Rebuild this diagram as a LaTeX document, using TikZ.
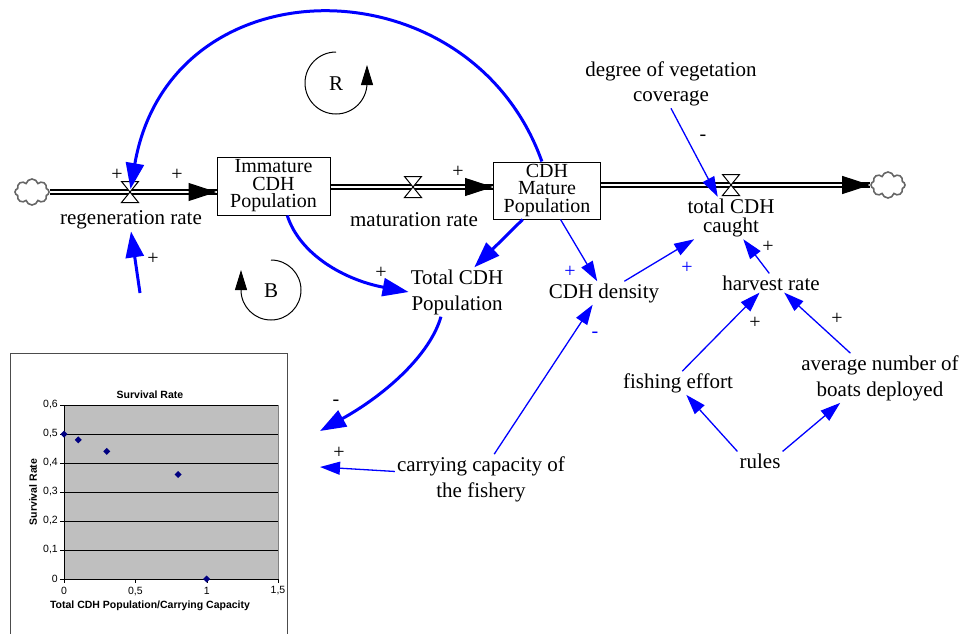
\documentclass[tikz,border=0pt]{standalone}
\usepackage{fontspec}
\setmainfont{Liberation Serif}
\setsansfont{Liberation Sans}
\usepackage{xcolor}
\usetikzlibrary{arrows.meta}
\usetikzlibrary{shapes.symbols, calc}

\definecolor{navy}{RGB}{0,0,128}

\tikzset{
  stock/.style={draw, line width=1pt, align=center, inner sep=0pt,
    minimum width=113pt, minimum height=58pt, font=\fontsize{20}{17.5}\selectfont},
  var/.style={align=center, inner sep=2pt, font=\fontsize{21}{26}\selectfont},
  sign/.style={inner sep=0pt, font=\fontsize{20}{20}\selectfont},
  pipe/.style={double distance=2.3pt, line width=1.7pt},
  flowtip/.style={line width=1pt, -{Triangle[length=28pt, width=18pt]}},
  sink/.style={cloud, cloud puffs=8, draw=black!60, line width=1.6pt,
    minimum width=34pt, minimum height=26pt, inner sep=0pt},
  link/.style={blue, line width=1.3pt, -{Triangle[length=20pt, width=13pt]}},
  biglink/.style={blue, line width=3pt, -{Triangle[length=26pt, width=18pt]}},
  loopsign/.style={line width=1pt, -{Triangle[length=20pt, width=12pt]}},
  chartlabel/.style={inner sep=0pt, font=\sffamily\fontsize{10.5}{12}\selectfont},
  valve/.pic={\filldraw[fill=white, line width=1pt] (-8.5,-10.5) -- (8.5,-10.5) -- (-8.5,10.5) -- (8.5,10.5) -- cycle;}
}

\begin{document}
\begin{tikzpicture}[x=1pt, y=-1pt]
  \useasboundingbox (0,0) rectangle (961,634);

  % stocks and flows
  \node[sink] (cloudL) at (32,192) {};
  \node[sink] (cloudR) at (888,185) {};
  \node[stock] (imm) at (273.5,186) {Immature\\CDH\\Population};
  \node[stock, minimum width=107pt, minimum height=57pt] (mat) at (547,190.5) {CDH\\Mature\\Population};
  \coordinate (vreg) at (130,192);
  \coordinate (vmat) at (413,187);
  \coordinate (vcat) at (731,185);

  \draw[pipe] (cloudL.east) -- (imm.west |- vreg);
  \draw[pipe] (imm.east |- vmat) -- (mat.west |- vmat);
  \draw[pipe] (mat.east |- vcat) -- (cloudR.west);
  \draw[flowtip] ($(imm.west |- vreg)+(-10,0)$) -- (imm.west |- vreg);
  \draw[flowtip] ($(mat.west |- vmat)+(-10,0)$) -- (mat.west |- vmat);
  \draw[flowtip] ($(cloudR.west)+(-10,0)$) -- (cloudR.west);
  \pic at (vreg) {valve};
  \pic at (vmat) {valve};
  \pic at (vcat) {valve};

  \node[sign] at (117,175) {+};
  \node[sign] at (177,175) {+};
  \node[sign] at (458,172) {+};

  % variables
  \node[var] (regen) at (131,220) {regeneration rate};
  \node[var] (matur) at (414,220) {maturation rate};
  \node[var, font=\fontsize{21}{19}\selectfont] (caught) at (731,218) {total CDH\\caught};
  \node[var, font=\fontsize{21}{25}\selectfont] (veg) at (671,84) {degree of vegetation\\coverage};
  \node[var] (total) at (457,292) {Total CDH\\Population};
  \node[var] (density) at (604,293) {CDH density};
  \node[var] (harvest) at (771,283) {harvest rate};
  \node[var] (effort) at (678,383) {fishing effort};
  \node[var] (boats) at (880,378) {average number of\\boats deployed};
  \node[var] (rules) at (760,461) {rules};
  \node[var] (capacity) at (481,479) {carrying capacity of\\the fishery};
  \coordinate (chartout) at (140,293);
  \coordinate (chartin1) at (320,431);
  \coordinate (chartin2) at (320,467);

  % loops
  \draw[loopsign] (336,52) arc[start angle=270, end angle=0, radius=31] -- ++(0,-18);
  \node at (336,84) {\fontsize{21}{21}\selectfont R};
  \draw[loopsign] (271,260) arc[start angle=270, end angle=540, radius=30] -- ++(0,-20);
  \node at (271,291) {\fontsize{21}{21}\selectfont B};

  % causal links
  \draw[biglink, shorten >=3pt] (mat.100) .. controls (470,-40) and (170,-40) .. (vreg);
  \draw[biglink] (chartout) -- (regen.south);
  \node[sign] at (153,259) {+};
  \draw[biglink] (imm.-65) .. controls (300,255) and (345,280) .. (total.west);
  \node[sign] at (381,273) {+};
  \draw[biglink] (mat.230) -- (total.55);
  \draw[link] (mat.-65) -- (density.120);
  \node[sign, blue] at (570,272) {+};
  \draw[link] (density.30) -- (caught.210);
  \node[sign, blue] at (687,268) {+};
  \draw[link] (veg.south) -- (caught.122);
  \node[sign] at (703,138) {-};
  \draw[link] (harvest.100) -- (caught.-60);
  \node[sign] at (768,247) {+};
  \draw[link] (effort.70) -- (harvest.220);
  \node[sign] at (755,323) {+};
  \draw[link] (boats.140) -- (harvest.-36);
  \node[sign] at (837,319) {+};
  \draw[link] (rules.north west) -- (effort.-55);
  \draw[link] (rules.north east) -- (boats.212);
  \draw[link] (capacity.62) -- (density.226);
  \node[sign, blue] at (595,335) {-};
  \draw[link] (capacity.175) -- (chartin2);
  \node[sign] at (339,453) {+};
  \draw[biglink] (total.237) .. controls (430,355) and (385,395) .. (chartin1);
  \node[sign] at (336,403) {-};

  % survival rate chart
  \draw[black!70, line width=0.8pt] (10,634) -- (10,353) -- (287,353) -- (287,634);
  \fill[black!25] (64,405) rectangle (278,579);
  \draw[gray] (278,405) -- (278,579);
  \foreach \v in {1,...,6}
    \draw[line width=0.8pt] (64,{579-29*\v}) -- (278,{579-29*\v});
  \draw[line width=0.8pt] (64,405) -- (64,579) -- (278,579);
  \foreach \v/\t in {0/0, 1/{0,1}, 2/{0,2}, 3/{0,3}, 4/{0,4}, 5/{0,5}, 6/{0,6}}
    \draw (60,{579-29*\v}) -- (64,{579-29*\v}) node[chartlabel, anchor=east, xshift=-2pt] at (60,{579-29*\v}) {\t};
  \foreach \x/\t in {64/0, 135.3/{0,5}, 206.7/1, 278/{1,5}}
    \draw (\x,579) -- (\x,583) node[chartlabel] at (\x,591) {\t};
  \foreach \px/\py in {0/0.5, 0.1/0.48, 0.3/0.44, 0.8/0.36, 1/0}
    \fill[navy] ({64+142.67*\px},{579-290*\py}) +(0,-3.5) -- +(3.5,0) -- +(0,3.5) -- +(-3.5,0) -- cycle;
  \node[chartlabel, font=\sffamily\bfseries\fontsize{10.5}{12}\selectfont] at (150,395) {Survival Rate};
  \node[chartlabel, font=\sffamily\bfseries\fontsize{10.5}{12}\selectfont, rotate=90] at (33,492) {Survival Rate};
  \node[chartlabel, font=\sffamily\bfseries\fontsize{10.5}{12}\selectfont] at (150,606) {Total CDH Population/Carrying Capacity};
\end{tikzpicture}
\end{document}
